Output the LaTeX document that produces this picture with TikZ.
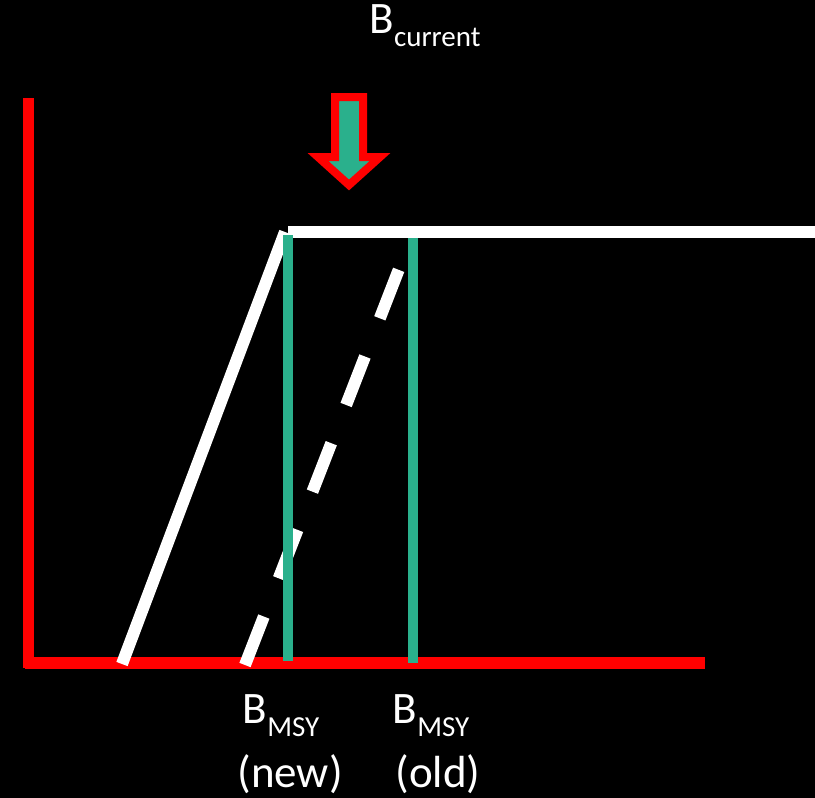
\documentclass[tikz,border=0pt]{standalone}
\usepackage{fontspec}
\setmainfont{Carlito}
\newcommand{\Bsub}[1]{B\raisebox{-13pt}{\fontsize{29}{29}\selectfont #1}}

\begin{document}
\begin{tikzpicture}[x=1pt,y=1pt,yscale=-1,xscale=1,
	lbl/.style={text=white,font=\fontsize{45}{54}\selectfont,inner sep=0.75pt,anchor=base}]
			%set diagram size 815 x 798, black backdrop
			\useasboundingbox (0,0) rectangle (815,798);
			\fill [black] (0,0) rectangle (815,798);
			
			%Straight Lines: axes
			\draw [color={rgb, 255:red, 255; green, 0; blue, 0 }  ,line width=11 ]  (28,98) -- (28,668) ;
			\draw [color={rgb, 255:red, 255; green, 0; blue, 0 }  ,line width=12 ]  (25,663) -- (705,663) ;
			
			%Straight Lines: control rule (new)
			\draw [color={rgb, 255:red, 255; green, 255; blue, 255 }  ,line width=12 ]  (122,664) -- (285,232) ;
			\draw [color={rgb, 255:red, 255; green, 255; blue, 255 }  ,line width=12 ]  (288,232) -- (815,232) ;
			%Straight Lines: control rule (old), dashed
			\draw [color={rgb, 255:red, 255; green, 255; blue, 255 }  ,line width=12 ,dash pattern={on 52pt off 41pt}]  (245,665) -- (399,269) ;
			
			%Straight Lines: B_MSY new and old
			\draw [color={rgb, 255:red, 42; green, 176; blue, 140 }  ,line width=10 ]  (288,235) -- (288,661) ;
			\draw [color={rgb, 255:red, 42; green, 176; blue, 140 }  ,line width=10 ]  (413,238) -- (413,663) ;
			
			%Shape: Down Arrow
			\draw [color={rgb, 255:red, 255; green, 0; blue, 0 }  ,line width=8 ,miter limit=4 ][fill={rgb, 255:red, 42; green, 176; blue, 140 }  ,fill opacity=1 ] (335,97) -- (363,97) -- (363,157) -- (380,157) -- (349,185) -- (318,157) -- (335,157) -- cycle ;
			
			% Text Node
			\draw (425,33) node [lbl] (bcurrent) {\Bsub{current}};
			% Text Node
			\draw (281,723) node [lbl] (bmsynew) {\Bsub{MSY}};
			% Text Node
			\draw (290,787) node [lbl] (tagnew) {(new)};
			% Text Node
			\draw (431,723) node [lbl] (bmsyold) {\Bsub{MSY}};
			% Text Node
			\draw (438,787) node [lbl] (tagold) {(old)};
		\end{tikzpicture}
\end{document}
